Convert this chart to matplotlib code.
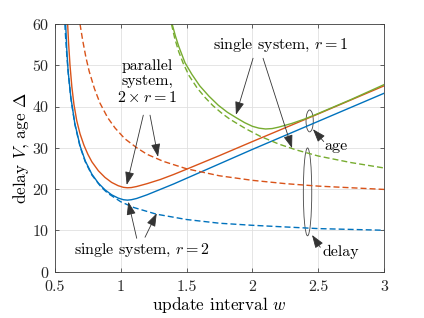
import matplotlib
matplotlib.use("Agg")
import matplotlib.pyplot as plt
from matplotlib.patches import Ellipse

plt.rcParams['font.family'] = 'serif'
plt.rcParams['font.serif'] = ['cmr10']
plt.rcParams['mathtext.fontset'] = 'cm'
plt.rcParams['axes.formatter.use_mathtext'] = True
plt.rcParams['lines.scale_dashes'] = False

# ---- data ----
# single system, r = 2 (blue)
w_age_r2 = [0.581, 0.59, 0.60, 0.62, 0.65, 0.69, 0.73, 0.78, 0.83, 0.88, 0.93, 0.98, 1.02, 1.05, 1.08,
            1.12, 1.2, 1.3, 1.4, 1.5, 1.75, 2.0, 2.5, 3.0]
age_r2 = [60, 53.5, 48.5, 42.3, 36.0, 30.5, 26.8, 23.6, 21.4, 19.8, 18.6, 17.8, 17.4, 17.3, 17.4,
          17.7, 18.6, 19.9, 21.2, 22.6, 26.1, 29.6, 36.4, 43.2]
w_del_r2 = [0.575, 0.58, 0.59, 0.60, 0.62, 0.65, 0.69, 0.73, 0.78, 0.85, 0.9, 1.0, 1.1, 1.27, 1.5, 1.75,
            2.0, 2.5, 3.0]
del_r2 = [60, 57.1, 52.3, 48.3, 42.1, 35.8, 30.3, 26.6, 23.4, 20.5, 19.0, 16.9, 15.5, 13.9, 12.6, 11.7,
          11.2, 10.4, 10.0]

# parallel system, 2 x r = 1 (orange)
w_age_par = [0.596, 0.603, 0.614, 0.628, 0.644, 0.665, 0.69, 0.72, 0.75, 0.78, 0.83, 0.88, 0.93, 0.98,
             1.02, 1.05, 1.08, 1.12, 1.2, 1.3, 1.4, 1.5, 1.75, 2.0, 2.5, 3.0]
age_par = [60, 55.5, 50, 44.8, 40.5, 36.6, 33.4, 30.6, 28.4, 26.6, 24.4, 22.8, 21.6, 20.8,
           20.4, 20.3, 20.35, 20.6, 21.3, 22.3, 23.5, 24.8, 28.1, 31.5, 38.2, 45.0]
w_del_par = [0.69, 0.71, 0.735, 0.76, 0.8, 0.842, 0.9, 0.956, 1.03, 1.121, 1.2, 1.323, 1.5, 1.75, 2.0,
             2.25, 2.5, 2.75, 3.0]
del_par = [60, 56.1, 51.9, 48.5, 44.3, 40.8, 37.3, 34.8, 32.2, 30.0, 28.4, 26.7, 24.9, 23.2, 22.1,
           21.3, 20.7, 20.3, 19.9]

# single system, r = 1 (green)
w_age_r1 = [1.39, 1.415, 1.44, 1.488, 1.54, 1.6, 1.67, 1.741, 1.81, 1.876, 1.94, 2.0, 2.05, 2.1, 2.15,
            2.2, 2.3, 2.4, 2.5, 2.75, 3.0]
age_r1 = [60, 57.1, 54.6, 50.6, 47.8, 45.0, 42.5, 40.3, 38.6, 37.3, 36.1, 35.2, 34.75, 34.55, 34.65,
          35.0, 35.9, 37.0, 38.3, 41.7, 45.3]
w_del_r1 = [1.385, 1.41, 1.44, 1.475, 1.52, 1.58, 1.64, 1.70, 1.77, 1.83, 1.95, 2.058, 2.2, 2.33, 2.5,
            2.75, 3.0]
del_r1 = [60, 56.5, 53.3, 50.4, 47.4, 44.5, 42.2, 40.2, 38.3, 36.9, 34.6, 32.8, 30.9, 29.5, 28.0,
          26.4, 25.1]

xticks = [0.5, 1, 1.5, 2, 2.5, 3]
xtick_labels = ['0.5', '1', '1.5', '2', '2.5', '3']
yticks = [0, 10, 20, 30, 40, 50, 60]

BLUE = '#0072BD'
ORANGE = '#D95319'
GREEN = '#77AC30'
DASH = (0, (4.3, 2.2))

fig = plt.figure(figsize=(4.24, 3.18), dpi=100)
ax = fig.add_axes([55/424, 1-271.5/318, 329/424, 247.5/318])

lw = 1.0
ax.plot(w_age_r2, age_r2, color=BLUE, lw=lw)
ax.plot(w_del_r2, del_r2, color=BLUE, lw=lw, linestyle=DASH)
ax.plot(w_age_par, age_par, color=ORANGE, lw=lw)
ax.plot(w_del_par, del_par, color=ORANGE, lw=lw, linestyle=DASH)
ax.plot(w_age_r1, age_r1, color=GREEN, lw=lw)
ax.plot(w_del_r1, del_r1, color=GREEN, lw=lw, linestyle=DASH)

ax.set_xlim(0.5, 3)
ax.set_ylim(0, 60)
ax.set_xticks(xticks)
ax.set_xticklabels(xtick_labels)
ax.set_yticks(yticks)
ax.grid(True, color='#e0e0e0', lw=0.6)
ax.set_axisbelow(True)
ax.tick_params(direction='in', length=3, width=0.5, top=True, right=True,
               labelsize=11.5, colors='#262626')
ax.tick_params(axis='x', pad=6)
ax.tick_params(axis='y', pad=4)
for s in ax.spines.values():
    s.set_color('#404040')
    s.set_linewidth(0.6)

ax.set_xlabel('update interval $w$', fontsize=12.4, labelpad=1)
ax.set_ylabel(r'delay $V$, age $\Delta$', fontsize=12.4, labelpad=1)

fs = 11.5
ac = '#333333'
aprops = dict(arrowstyle='-|>,head_length=0.8,head_width=0.28', color=ac, lw=0.6,
              shrinkA=0, shrinkB=0, mutation_scale=10)

def arrow(tail, tip):
    ax.annotate('', xy=tip, xytext=tail, arrowprops=aprops)

# parallel system label
ax.text(1.199, 46.0, 'parallel\nsystem,\n$2\\times r=1$', ha='center', va='center',
        fontsize=fs, linespacing=1.15)
arrow((1.171, 37.9), (1.045, 21.0))
arrow((1.222, 37.9), (1.283, 27.8))

# single system r=1
ax.text(2.217, 54.9, 'single system, $r=1$', ha='center', va='center', fontsize=fs)
arrow((2.005, 51.7), (1.875, 38.0))
arrow((2.081, 51.7), (2.301, 29.9))

# single system r=2
ax.text(1.161, 5.0, 'single system, $r=2$', ha='center', va='center', fontsize=fs)
arrow((1.121, 8.05), (1.057, 16.9))
arrow((1.184, 8.3), (1.273, 14.1))

# age ellipse
ax.add_patch(Ellipse((2.435, 36.5), 0.055, 5.3, fill=False, ec='#444444', lw=0.6))
arrow((2.542, 31.5), (2.460, 34.5))
ax.text(2.639, 30.4, 'age', ha='center', va='center', fontsize=fs)

# delay ellipse
ax.add_patch(Ellipse((2.419, 19.3), 0.064, 21.3, fill=False, ec='#444444', lw=0.6))
arrow((2.516, 5.87), (2.453, 8.85))
ax.text(2.673, 4.85, 'delay', ha='center', va='center', fontsize=fs)

fig.savefig('out.png', dpi=100)
